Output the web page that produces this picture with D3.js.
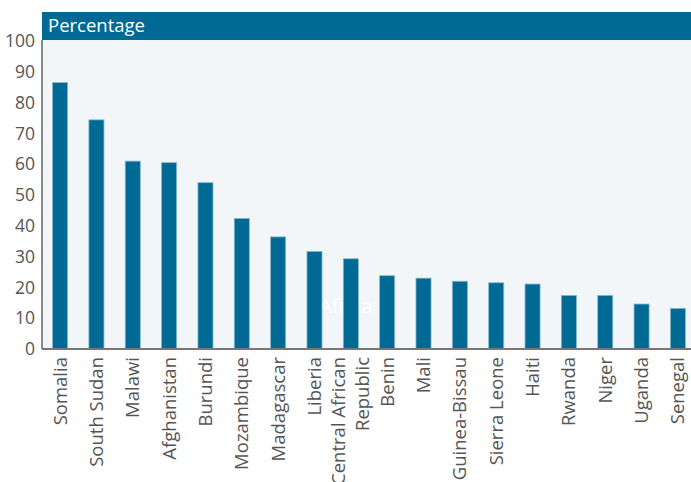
<!DOCTYPE html>
<html>
<head>
<meta charset="utf-8">
<script src="https://cdn.jsdelivr.net/npm/d3@7"></script>
<style>
  body { margin: 0; background: #fff; }
  svg { display: block; font-family: "Open Sans", sans-serif; }
</style>
</head>
<body>
<div id="chart"></div>
<script>
var svgWidth = 691;
var svgHeight = 482;

// data
var countries = ["Somalia", "South Sudan", "Malawi", "Afghanistan", "Burundi", "Mozambique",
  "Madagascar", "Liberia", "Central African Republic", "Benin", "Mali", "Guinea-Bissau",
  "Sierra Leone", "Haiti", "Rwanda", "Niger", "Uganda", "Senegal"];
var values = [86.5, 74.4, 61.0, 60.5, 54.0, 42.4, 36.4, 31.7, 29.3, 23.8, 23.0, 22.0,
  21.5, 21.1, 17.4, 17.4, 14.6, 13.2];
var yTicks = [0, 10, 20, 30, 40, 50, 60, 70, 80, 90, 100];

var plot = { left: 42, top: 41, bottom: 349, right: 696 };

var svg = d3.select("#chart").append("svg")
    .attr("width", svgWidth)
    .attr("height", svgHeight);

var xScale = d3.scaleBand()
    .domain(countries)
    .range([plot.left, plot.right])
    .paddingInner(0.585)
    .paddingOuter(0.29);

var yScale = d3.scaleLinear()
    .domain([0, 100])
    .range([plot.bottom, plot.top]);

// plot background
svg.append("rect")
    .attr("x", plot.left)
    .attr("y", 40)
    .attr("width", svgWidth - plot.left)
    .attr("height", plot.bottom - 40)
    .attr("fill", "#f3f6f8");

// header bar
svg.append("rect")
    .attr("x", plot.left)
    .attr("y", 12)
    .attr("width", svgWidth - plot.left)
    .attr("height", 28)
    .attr("fill", "#006a95");

svg.append("text")
    .attr("x", 48)
    .attr("y", 32)
    .attr("fill", "#fff")
    .attr("font-size", 18.5)
    .text("Percentage");

// watermark behind the bars
svg.append("text")
    .attr("x", 346)
    .attr("y", 313)
    .attr("text-anchor", "middle")
    .attr("fill", "#ffffff")
    .attr("font-size", 20)
    .text("Africa");

// bars
svg.selectAll("rect.bar")
    .data(values)
    .enter()
    .append("rect")
    .attr("class", "bar")
    .attr("x", (d, i) => xScale(countries[i]))
    .attr("y", d => yScale(d))
    .attr("width", xScale.bandwidth())
    .attr("height", d => yScale(0) - yScale(d))
    .attr("fill", "#006a95")
    .attr("stroke", "#8ab9cf")
    .attr("stroke-width", 0.8);

// y axis
var yAxis = svg.append("g")
    .attr("transform", `translate(${plot.left}, 0)`)
    .call(d3.axisLeft(yScale).tickValues(yTicks).tickSize(0).tickPadding(7));
yAxis.select(".domain").remove();
yAxis.selectAll("text")
    .attr("font-family", "Open Sans, sans-serif")
    .attr("font-size", 17.5)
    .attr("fill", "#555");

// x axis labels
var xAxis = svg.append("g")
    .attr("transform", `translate(0, ${plot.bottom})`)
    .call(d3.axisBottom(xScale).tickSize(0).tickFormat(""));
xAxis.select(".domain").remove();

var labelGroup = svg.append("g");
countries.forEach(function(name) {
    var cx = xScale(name) + xScale.bandwidth() / 2;
    var lines = name === "Central African Republic" ? ["Central African", "Republic"] : [name];
    lines.forEach(function(line, j) {
        var offset = (j - (lines.length - 1) / 2) * 24;
        labelGroup.append("text")
            .attr("transform", `translate(${cx + offset + 6.5}, 357) rotate(-90)`)
            .attr("text-anchor", "end")
            .attr("font-size", 18.5)
            .attr("fill", "#555")
            .text(line);
    });
});

// axis lines
svg.append("line")
    .attr("x1", plot.left).attr("x2", plot.left)
    .attr("y1", 40).attr("y2", plot.bottom)
    .attr("stroke", "#666").attr("stroke-width", 1.5);
svg.append("line")
    .attr("x1", plot.left).attr("x2", svgWidth)
    .attr("y1", plot.bottom).attr("y2", plot.bottom)
    .attr("stroke", "#777").attr("stroke-width", 2);
</script>
</body>
</html>
